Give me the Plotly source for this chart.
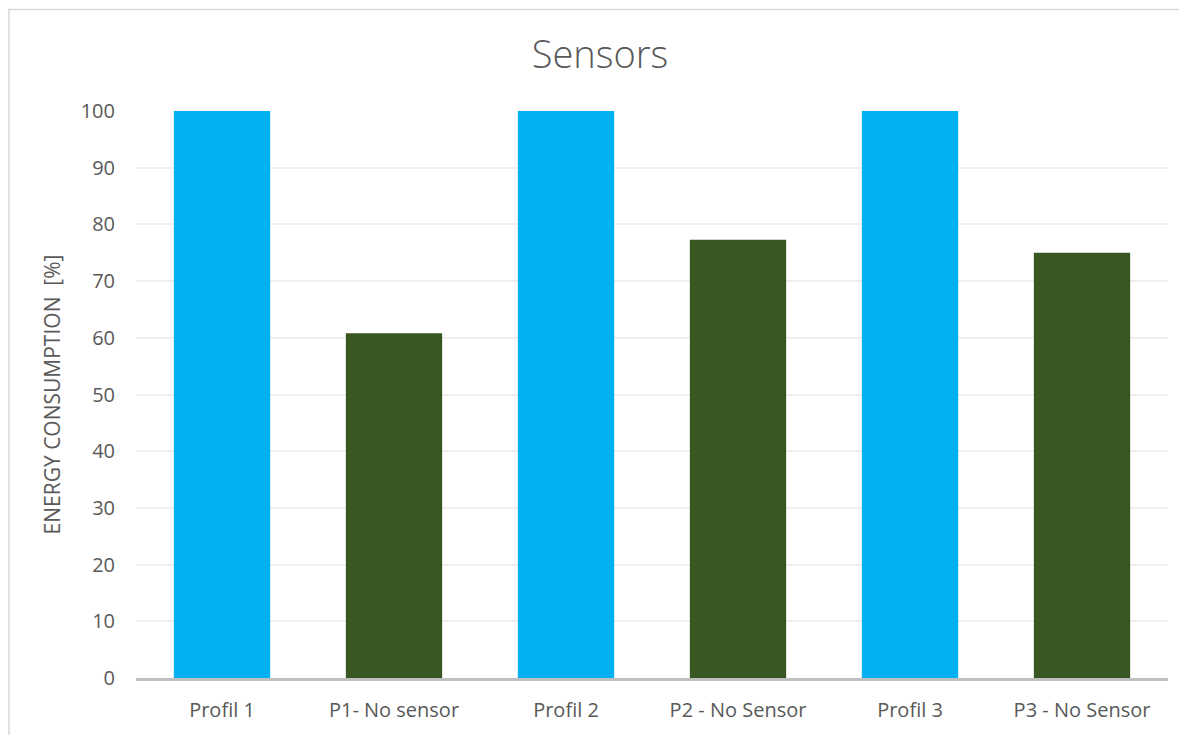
import plotly.graph_objects as go

categories = ["Profil 1", "P1- No sensor", "Profil 2", "P2 - No Sensor", "Profil 3", "P3 - No Sensor"]
values = [100, 60.8, 100, 77.3, 100, 75.0]
colors = ["#00B0F0", "#385723", "#00B0F0", "#385723", "#00B0F0", "#385723"]
y_ticks = list(range(0, 101, 10))

# page has an 8px body margin, so the figure is sized to the remaining space
W, H = 1179, 727
L, R, T, B = 128, 19, 103, 54
pw = W - L - R
ph = H - T - B

fig = go.Figure(go.Bar(x=categories, y=values, marker=dict(color=colors, line=dict(width=0)),
                       width=0.56))

fig.update_layout(
    width=W, height=H,
    margin=dict(l=L, r=R, t=T, b=B, pad=0),
    paper_bgcolor="white", plot_bgcolor="white",
    font=dict(family="Open Sans", color="#595959"),
    title=dict(text="Sensors", x=592 / W, xref="container", xanchor="center",
               y=1 - 47 / H, yref="container", yanchor="middle",
               font=dict(family="Open Sans", size=38, color="#595959", weight=300)),
    showlegend=False,
    bargap=0.44,
)
fig.update_yaxes(range=[0, 100], tickvals=y_ticks, showgrid=True, gridcolor="#EFEFEF", gridwidth=1.5,
                 zeroline=False, showline=False, ticks="", ticklabelstandoff=20,
                 tickfont=dict(size=20, color="#595959"),
                 title=dict(text="ENERGY CONSUMPTION  [%]", standoff=14,
                            font=dict(size=21, color="#595959")))
fig.update_xaxes(showline=True, linecolor="#BFBFBF", linewidth=3, showgrid=False, ticks="",
                 ticklabelstandoff=12, tickfont=dict(size=20, color="#595959"))

# outer chart border (left and top edges visible)
fig.add_shape(type="rect", xref="paper", yref="paper",
              x0=(1 - L) / pw, x1=(W + 5 - L) / pw,
              y0=(H - B - (H + 5)) / ph, y1=(H - B - 1) / ph,
              line=dict(color="#D9D9D9", width=1.5), fillcolor="rgba(0,0,0,0)", layer="below")

fig.write_html("out.html")
